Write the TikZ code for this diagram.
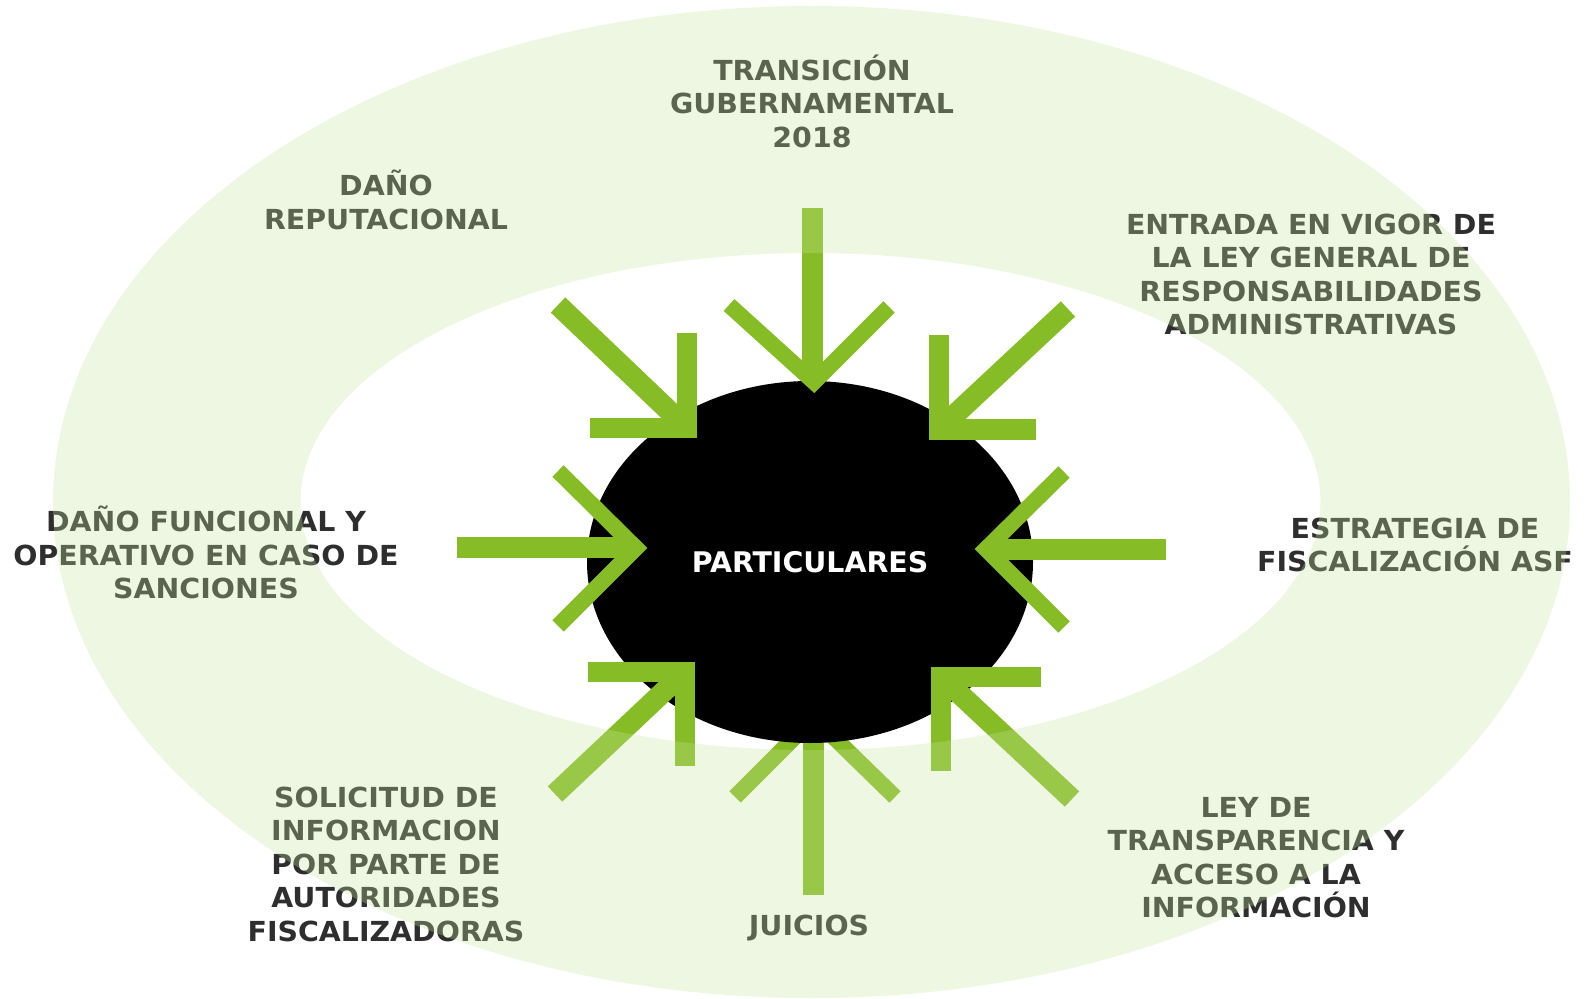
\documentclass[tikz,border=0pt]{standalone}
\usepackage{fontspec}
\usepackage{tikz}
\usetikzlibrary{shapes.geometric}
\newfontfamily\labelfont[FakeStretch=1.03]{DejaVu Sans Bold}
\newfontfamily\hubfont{DejaVu Sans Bold}
\definecolor{arrowgreen}{RGB}{134,188,37}
\definecolor{ringgreen}{RGB}{198,228,155}
\definecolor{labelgray}{RGB}{46,46,46}
\tikzset{
    factor-label/.style = {align=center, text=labelgray, inner sep=0pt, font=\labelfont\fontsize{13.8}{16.75}\selectfont},
    hub-ellipse/.style = {ellipse, fill=black, text=white, inner sep=0pt, minimum width=223pt, minimum height=181pt, font=\hubfont\fontsize{14.2}{17}\selectfont},
    arrow-shaft/.style = {draw=arrowgreen, line width=10.5pt},
    arrow-corner/.style = {draw=arrowgreen, line width=10pt, line join=miter},
    arrow-vee/.style = {draw=arrowgreen, line width=8pt, line join=miter},
    ring/.style = {fill=ringgreen, fill opacity=0.3, even odd rule},
}

\begin{document}
\begin{tikzpicture}[x=0.5pt, y=-0.5pt]
\useasboundingbox (0,0) rectangle (1593,999);
\draw[arrow-shaft] (813,895) -- (813,730);
\draw[arrow-vee] (735,797) -- (814,718) -- (895,797);
\node[hub-ellipse] (hub) at (810,562) {PARTICULARES};
\draw[arrow-shaft] (812,208) -- (812,378);
\draw[arrow-vee] (729,305) -- (814,382) -- (889,307);
\draw[arrow-shaft] (558,305) -- (687,428);
\draw[arrow-corner] (687,333) -- (687,428) -- (590,428);
\draw[arrow-shaft] (1068,309) -- (939,429.5);
\draw[arrow-corner] (939,335) -- (939,429.5) -- (1036,429.5);
\draw[arrow-shaft] (457,547) -- (630,547);
\draw[arrow-vee] (558,471) -- (636,548) -- (558,626);
\draw[arrow-shaft] (1166,549.5) -- (992,549.5);
\draw[arrow-vee] (1064,472) -- (986,549) -- (1064,627);
\draw[arrow-shaft] (555,794) -- (685,671.5);
\draw[arrow-corner] (588,671.5) -- (685,671.5) -- (685,766);
\draw[arrow-shaft] (1072,799) -- (941,676.5);
\draw[arrow-corner] (1041,676.5) -- (941,676.5) -- (941,771);
\node[factor-label] (transicion) at (812,101) {TRANSICIÓN\\GUBERNAMENTAL\\2018};
\node[factor-label] (reputacional) at (386,200) {DAÑO\\REPUTACIONAL};
\node[factor-label] (ley-general) at (1311,274.5) {ENTRADA EN VIGOR DE\\LA LEY GENERAL DE\\RESPONSABILIDADES\\ADMINISTRATIVAS};
\node[factor-label] (funcional) at (206,552.5) {DAÑO FUNCIONAL Y\\OPERATIVO EN CASO DE\\SANCIONES};
\node[factor-label] (estrategia) at (1415,545) {ESTRATEGIA DE\\FISCALIZACIÓN ASF};
\node[factor-label] (solicitud) at (386,864) {SOLICITUD DE\\INFORMACION\\POR PARTE DE\\AUTORIDADES\\FISCALIZADORAS};
\node[factor-label] (juicios) at (809,928) {JUICIOS};
\node[factor-label] (transparencia) at (1256,857.5) {LEY DE\\TRANSPARENCIA Y\\ACCESO A LA\\INFORMACIÓN};
\fill[ring] (811.5,502) ellipse (379.25pt and 248pt) (810.5,501.5) ellipse (255pt and 124.25pt);
\end{tikzpicture}
\end{document}
